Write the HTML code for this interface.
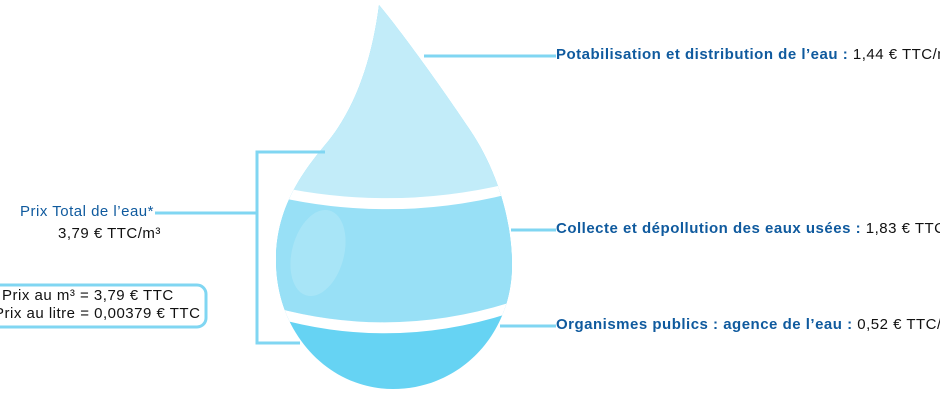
<!DOCTYPE html>
<html><head><meta charset="utf-8"><style>
html,body{margin:0;padding:0;background:#fff;}
body{width:940px;height:400px;overflow:hidden;position:relative;font-family:"Liberation Sans",sans-serif;}
.t{position:absolute;font-size:15px;letter-spacing:0.5px;white-space:nowrap;color:#111;}
.b{color:#0f5a9e;font-weight:bold;}
</style></head><body>
<svg width="940" height="400" style="position:absolute;left:0;top:0">
<defs><clipPath id="d"><path d="M379,5 C372,60 355,110 325,145 C300,175 276,210 276,260 C276,335 330,389 393,389 C460,389 512,335 512,265 C512,220 497,170 470,130 C440,85 400,30 379,5 Z"/></clipPath></defs>
<g clip-path="url(#d)">
<rect x="250" y="0" width="300" height="400" fill="#66d3f3"/>
<path d="M250,0 H550 V180 Q400,220 250,180 Z" fill="#c2ecf9"/>
<path d="M250,188 Q400,228 550,178 L550,290 Q400,350 250,300 Z" fill="#98e0f6"/>
<path d="M250,180 Q400,220 550,172 L550,182 Q400,232 250,190 Z" fill="#fff"/>
<path d="M250,300 Q400,350 550,288 L550,298 Q400,362 250,310 Z" fill="#fff"/>
<ellipse cx="318" cy="253" rx="26" ry="44" transform="rotate(15 318 253)" fill="#ace6f7" opacity="0.8"/>
</g>
<g stroke="#80d6f2" stroke-width="3" fill="none">
<line x1="424" y1="56" x2="556" y2="56"/>
<line x1="511" y1="230" x2="556" y2="230"/>
<line x1="500" y1="326" x2="556" y2="326"/>
<polyline points="325,152 257,152 257,343 300,343"/>
<line x1="155" y1="213" x2="257" y2="213"/>
<rect x="-10" y="285" width="216" height="42" rx="9"/>
</g>
</svg>
<div class="t" style="left:556px;top:46px"><span class="b">Potabilisation et distribution de l’eau :</span> 1,44 € TTC/m³</div>
<div class="t" style="left:556px;top:220px"><span class="b">Collecte et dépollution des eaux usées :</span> 1,83 € TTC/m³</div>
<div class="t" style="left:556px;top:316px"><span class="b">Organismes publics : agence de l’eau :</span> 0,52 € TTC/m³</div>
<div class="t" style="left:20px;top:203px;color:#0f5a9e">Prix Total de l’eau*</div>
<div class="t" style="left:58px;top:225px">3,79 € TTC/m³</div>
<div class="t" style="left:2px;top:287px">Prix au m³ = 3,79 € TTC</div>
<div class="t" style="left:-6px;top:305px">Prix au litre = 0,00379 € TTC</div>
</body></html>
